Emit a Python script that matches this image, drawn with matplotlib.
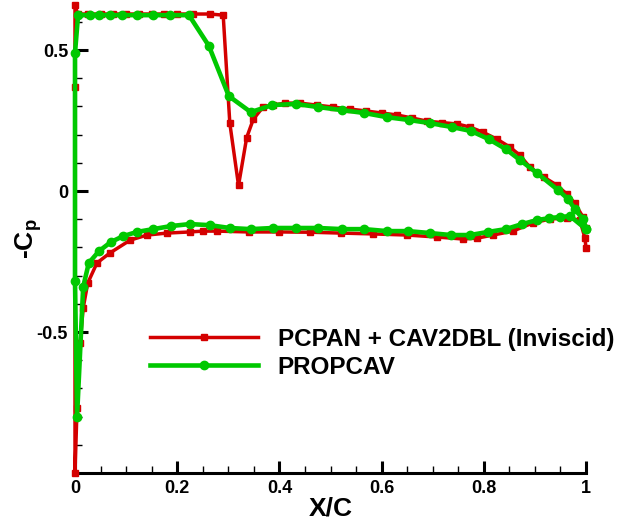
import numpy as np
import matplotlib
matplotlib.use("Agg")
import matplotlib.pyplot as plt

plt.rcParams['font.family'] = ['Liberation Sans', 'DejaVu Sans']
plt.rcParams['font.weight'] = 'bold'
plt.rcParams['mathtext.fontset'] = 'custom'
plt.rcParams['mathtext.rm'] = 'Liberation Sans:bold'
plt.rcParams['mathtext.bf'] = 'Liberation Sans:bold'

# PCPAN + CAV2DBL (Inviscid) : lower surface (TE -> LE), upper surface (LE -> TE)
red_lower_x = [1.0, 0.998, 0.988, 0.963, 0.93, 0.896, 0.857, 0.818, 0.787, 0.759,
               0.708, 0.65, 0.583, 0.52, 0.46, 0.40, 0.34, 0.278, 0.25, 0.225,
               0.18, 0.141, 0.108, 0.068, 0.043, 0.025, 0.016, 0.01, 0.004, 0.0]
red_lower_y = [-0.202, -0.167, -0.103, -0.096, -0.099, -0.113, -0.142, -0.156, -0.167, -0.170,
               -0.163, -0.156, -0.152, -0.149, -0.146, -0.145, -0.145, -0.142, -0.142, -0.145,
               -0.149, -0.156, -0.174, -0.22, -0.255, -0.326, -0.415, -0.54, -0.77, -1.0]
red_upper_x = [0.0, 0.0, 0.005, 0.025, 0.05, 0.075, 0.1, 0.125, 0.15, 0.175,
               0.2, 0.23, 0.264, 0.29, 0.303, 0.32, 0.336, 0.349, 0.368, 0.388,
               0.411, 0.44, 0.473, 0.505, 0.538, 0.57, 0.60, 0.63, 0.66, 0.689,
               0.718, 0.748, 0.773, 0.798, 0.826, 0.851, 0.87, 0.89, 0.917, 0.943,
               0.962, 0.978, 0.994, 1.0]
red_upper_y = [0.37, 0.66, 0.628, 0.628, 0.628, 0.628, 0.628, 0.628, 0.628, 0.628,
               0.628, 0.628, 0.628, 0.624, 0.24, 0.02, 0.19, 0.255, 0.298, 0.305,
               0.312, 0.312, 0.305, 0.298, 0.291, 0.284, 0.277, 0.27, 0.259, 0.248,
               0.243, 0.238, 0.227, 0.209, 0.184, 0.156, 0.128, 0.085, 0.05, 0.021,
               -0.01, -0.043, -0.092, -0.13]

# PROPCAV
green_lower_x = [1.0, 0.969, 0.949, 0.928, 0.904, 0.875, 0.843, 0.808, 0.773, 0.736,
                 0.695, 0.652, 0.611, 0.566, 0.523, 0.476, 0.432, 0.387, 0.344, 0.303,
                 0.264, 0.225, 0.188, 0.153, 0.121, 0.094, 0.070, 0.047, 0.027, 0.016,
                 0.004]
green_lower_y = [-0.135, -0.089, -0.092, -0.096, -0.103, -0.117, -0.135, -0.145, -0.156, -0.156,
                 -0.149, -0.142, -0.142, -0.135, -0.135, -0.131, -0.131, -0.131, -0.135, -0.131,
                 -0.121, -0.117, -0.124, -0.135, -0.145, -0.160, -0.181, -0.213, -0.255, -0.34,
                 -0.80]
green_upper_x = [0.0, 0.0, 0.006, 0.029, 0.047, 0.068, 0.092, 0.121, 0.153, 0.186,
                 0.223, 0.262, 0.301, 0.344, 0.386, 0.432, 0.476, 0.523, 0.566, 0.611,
                 0.654, 0.695, 0.738, 0.775, 0.810, 0.843, 0.871, 0.904, 0.945, 0.965,
                 0.978, 0.994, 1.0]
green_upper_y = [-0.32, 0.49, 0.624, 0.624, 0.624, 0.624, 0.624, 0.624, 0.624, 0.624,
                 0.624, 0.515, 0.337, 0.28, 0.305, 0.309, 0.298, 0.287, 0.277, 0.262,
                 0.252, 0.241, 0.227, 0.213, 0.184, 0.149, 0.110, 0.064, 0.004, -0.028,
                 -0.064, -0.099, -0.135]

labels = ['PCPAN + CAV2DBL (Inviscid)', 'PROPCAV']

red_x = red_lower_x + red_upper_x
red_y = red_lower_y + red_upper_y
green_x = green_lower_x + green_upper_x
green_y = green_lower_y + green_upper_y

fig = plt.figure(figsize=(6.34, 5.21), dpi=100)
ax = fig.add_axes([75 / 634, 48 / 521, 511 / 634, 468 / 521])

ax.plot(red_x, red_y, color='#d40000', lw=2.5, marker='s', ms=4,
        label=labels[0], zorder=3, clip_on=False)
ax.plot(green_x, green_y, color='#00c800', lw=3.3, marker='o', ms=6,
        label=labels[1], zorder=4, clip_on=False)

ax.set_xlim(0, 1)
ax.set_ylim(-1, 0.66)
ax.set_xticks([0, 0.2, 0.4, 0.6, 0.8, 1.0])
ax.set_xticklabels(['0', '0.2', '0.4', '0.6', '0.8', '1'])
ax.set_xticks(np.arange(0, 1.0001, 0.05), minor=True)
ax.set_yticks([-0.5, 0, 0.5])
ax.set_yticklabels(['-0.5', '0', '0.5'])
ax.set_yticks(np.arange(-1.0, 0.66, 0.1), minor=True)

for s in ['top', 'right']:
    ax.spines[s].set_visible(False)
for s in ['left', 'bottom']:
    ax.spines[s].set_linewidth(2.2)

ax.tick_params(which='major', direction='in', length=9, width=2.2,
               labelsize=13, pad=5)
ax.tick_params(which='minor', direction='in', length=5, width=1.0)

ax.set_xlabel('X/C', fontsize=19, fontweight='bold', labelpad=0)
ax.set_ylabel('-C$_\\mathbf{p}$', fontsize=19, fontweight='bold')
ax.yaxis.set_label_coords(-0.06, 0.5)

ax.legend(loc='upper left', bbox_to_anchor=(150 / 634, 1 - 328 / 521),
          bbox_transform=fig.transFigure, frameon=False, fontsize=17.5,
          handlelength=4.45, handletextpad=0.8, labelspacing=0.2,
          borderpad=0, borderaxespad=0, numpoints=1, markerscale=1.0)

fig.savefig('out.png', dpi=100)
